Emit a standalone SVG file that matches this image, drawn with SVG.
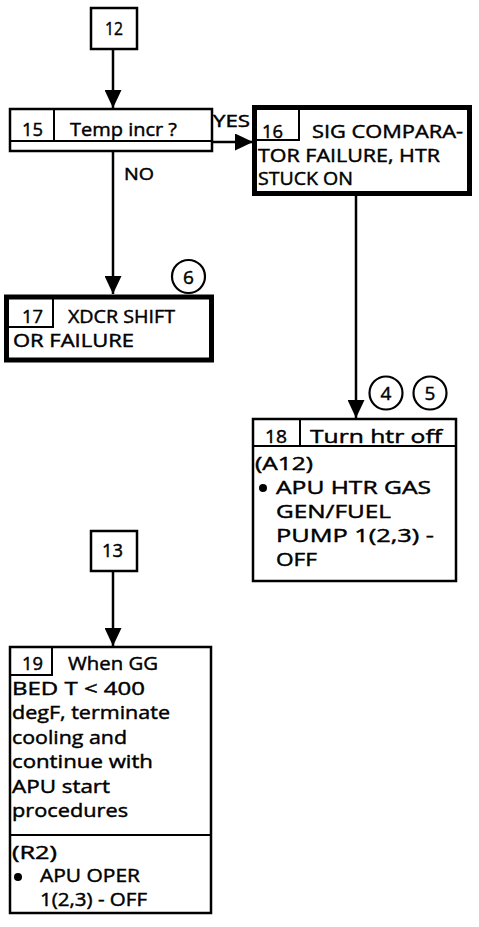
<svg xmlns="http://www.w3.org/2000/svg" width="479" height="927" viewBox="0 0 479 927">
<defs>
<style>
.t{font-family:"Open Sans","Liberation Sans",sans-serif;font-size:19px;fill:#000;stroke:#000;stroke-width:0.45;}
.s{font-family:"Open Sans","Liberation Sans",sans-serif;font-size:17px;fill:#000;stroke:#000;stroke-width:0.45;}
.b{fill:#fff;stroke:#000;stroke-width:2.5;}
.k{fill:#fff;stroke:#000;stroke-width:5;}
.l{fill:none;stroke:#000;stroke-width:2;}
.c{fill:#fff;stroke:#000;stroke-width:2.2;}
.w{stroke:#000;stroke-width:2.5;fill:none;}
</style>
<marker id="ah" markerWidth="18" markerHeight="17" refX="18" refY="8.5" orient="auto" markerUnits="userSpaceOnUse">
<path d="M0,0 L18,8.5 L0,17 z" fill="#000"/>
</marker>
</defs>
<rect width="479" height="927" fill="#fff"/>

<g id="connectors">
<line class="w" x1="113" y1="49" x2="113" y2="108" marker-end="url(#ah)"/>
<line class="w" x1="212" y1="142" x2="253" y2="142" marker-end="url(#ah)"/>
<line class="w" x1="113" y1="151" x2="113" y2="294" marker-end="url(#ah)"/>
<line class="w" x1="356" y1="195" x2="356" y2="418" marker-end="url(#ah)"/>
<line class="w" x1="113" y1="571" x2="113" y2="646" marker-end="url(#ah)"/>
<text class="s" x="213" y="127" textLength="37" lengthAdjust="spacingAndGlyphs">YES</text>
<text class="s" x="124" y="180" textLength="30" lengthAdjust="spacingAndGlyphs">NO</text>
</g>

<g id="n12">
<rect class="b" x="91" y="8" width="46" height="41"/>
<text class="t" x="105" y="35" textLength="18" lengthAdjust="spacingAndGlyphs">12</text>
</g>

<g id="n15">
<rect class="b" x="10" y="109" width="202" height="42"/>
<path class="l" d="M10,141 H212 M54,109 V141"/>
<text class="t" x="22" y="136" textLength="21" lengthAdjust="spacingAndGlyphs">15</text>
<text class="t" x="70" y="136" textLength="107" lengthAdjust="spacingAndGlyphs">Temp incr ?</text>
</g>

<g id="n16">
<rect class="k" x="254.5" y="107.5" width="215" height="86"/>
<path class="l" d="M255,140 H299 V108"/>
<text class="t" x="262" y="138" textLength="21" lengthAdjust="spacingAndGlyphs">16</text>
<text class="t" x="312" y="138" textLength="151" lengthAdjust="spacingAndGlyphs">SIG COMPARA-</text>
<text class="t" x="258" y="161.5" textLength="182" lengthAdjust="spacingAndGlyphs">TOR FAILURE, HTR</text>
<text class="t" x="258" y="185" textLength="95" lengthAdjust="spacingAndGlyphs">STUCK ON</text>
</g>

<g id="n17">
<rect class="k" x="6.5" y="297" width="205" height="63"/>
<path class="l" d="M7,327 H53 V298"/>
<text class="t" x="22" y="323" textLength="21" lengthAdjust="spacingAndGlyphs">17</text>
<text class="t" x="68" y="323" textLength="107" lengthAdjust="spacingAndGlyphs">XDCR SHIFT</text>
<text class="t" x="13" y="347" textLength="121" lengthAdjust="spacingAndGlyphs">OR FAILURE</text>
</g>

<g id="c6">
<circle class="c" cx="188.5" cy="276.5" r="16.5"/>
<text class="t" x="188.5" y="283.5" text-anchor="middle">6</text>
</g>

<g id="c4">
<circle class="c" cx="386" cy="393" r="16.5"/>
<text class="t" x="386" y="400" text-anchor="middle">4</text>
</g>

<g id="c5">
<circle class="c" cx="430" cy="393" r="16.5"/>
<text class="t" x="430" y="400" text-anchor="middle">5</text>
</g>

<g id="n18">
<rect class="b" x="253" y="419" width="203" height="162"/>
<path class="l" d="M253,446 H456 M300,419 V446"/>
<text class="t" x="265" y="443" textLength="22" lengthAdjust="spacingAndGlyphs">18</text>
<text class="t" x="310" y="443" textLength="132" lengthAdjust="spacingAndGlyphs">Turn htr off</text>
<text class="t" x="255" y="470" textLength="58" lengthAdjust="spacingAndGlyphs">(A12)</text>
<circle cx="263" cy="488" r="4" fill="#000"/>
<text class="t" x="276" y="494" textLength="155" lengthAdjust="spacingAndGlyphs">APU HTR GAS</text>
<text class="t" x="276" y="518" textLength="115" lengthAdjust="spacingAndGlyphs">GEN/FUEL</text>
<text class="t" x="276" y="542" textLength="158" lengthAdjust="spacingAndGlyphs">PUMP 1(2,3) -</text>
<text class="t" x="276" y="566" textLength="41" lengthAdjust="spacingAndGlyphs">OFF</text>
</g>

<g id="n13">
<rect class="b" x="91" y="531" width="46" height="40"/>
<text class="t" x="102" y="557" textLength="21" lengthAdjust="spacingAndGlyphs">13</text>
</g>

<g id="n19">
<rect class="b" x="10" y="647" width="201" height="266"/>
<path class="l" d="M10,675 H52 V647 M10,835 H211"/>
<text class="t" x="22" y="670" textLength="21" lengthAdjust="spacingAndGlyphs">19</text>
<text class="t" x="68" y="670" textLength="90" lengthAdjust="spacingAndGlyphs">When GG</text>
<text class="t" x="12" y="695" textLength="133" lengthAdjust="spacingAndGlyphs">BED T &lt; 400</text>
<text class="t" x="12" y="719" textLength="158" lengthAdjust="spacingAndGlyphs">degF, terminate</text>
<text class="t" x="12" y="744" textLength="115" lengthAdjust="spacingAndGlyphs">cooling and</text>
<text class="t" x="12" y="768" textLength="141" lengthAdjust="spacingAndGlyphs">continue with</text>
<text class="t" x="12" y="793" textLength="98" lengthAdjust="spacingAndGlyphs">APU start</text>
<text class="t" x="12" y="817" textLength="116" lengthAdjust="spacingAndGlyphs">procedures</text>
<text class="t" x="12" y="859" textLength="45" lengthAdjust="spacingAndGlyphs">(R2)</text>
<circle cx="18" cy="877" r="4" fill="#000"/>
<text class="t" x="40" y="882" textLength="100" lengthAdjust="spacingAndGlyphs">APU OPER</text>
<text class="t" x="40" y="906" textLength="107" lengthAdjust="spacingAndGlyphs">1(2,3) - OFF</text>
</g>
</svg>
